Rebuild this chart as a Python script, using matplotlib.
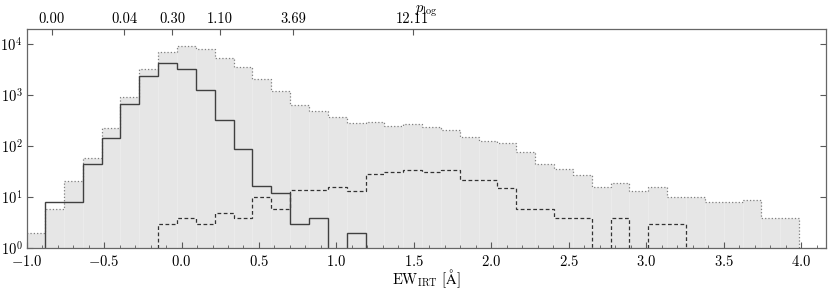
import matplotlib
matplotlib.use("Agg")
import matplotlib.pyplot as plt
from matplotlib.ticker import MultipleLocator, LogLocator, NullFormatter
import numpy as np

# bin edges of the EW_IRT histograms
edge_start = -1.003
edge_step = 0.1217
n_bins = 41

# counts per bin: whole sample (grey), solid and dashed subsets
all_counts = [2, 6, 21, 60, 232, 939, 3325, 6970, 9140, 7980,
              5380, 3540, 2060, 1214, 645, 485, 370, 282, 303, 250,
              270, 236, 209, 154, 125, 116, 78, 46, 36, 27,
              16, 19, 13, 16, 10, 10, 8, 8, 9, 4, 4]
solid_counts = [0, 8, 8, 46, 147, 666, 2390, 4360, 3280, 1270,
                328, 88, 17, 12, 3, 4, 0, 2, 0, 0,
                0, 0, 0, 0, 0, 0, 0, 0, 0, 0,
                0, 0, 0, 0, 0, 0, 0, 0, 0, 0, 0]
dashed_counts = [0, 0, 0, 0, 0, 0, 0, 3, 4, 3,
                 5, 4, 10, 6, 14, 14, 16, 13, 28, 31,
                 34, 31, 34, 22, 22, 15, 6, 6, 4, 4,
                 0, 4, 0, 3, 3, 0, 0, 0, 0, 0, 0]

# top axis: p_log values and where they sit on the EW axis
plog_ew = [-0.837, -0.371, -0.059, 0.249, 0.719, 1.493]
plog_labels = ["0.00", "0.04", "0.30", "1.10", "3.69", "12.11"]

plt.rcParams['font.family'] = 'serif'
plt.rcParams['font.serif'] = ['cmr10', 'DejaVu Serif']
plt.rcParams['mathtext.fontset'] = 'cm'
plt.rcParams['axes.formatter.use_mathtext'] = True
plt.rcParams['font.size'] = 10.5

edges = edge_start + edge_step * np.arange(n_bins + 1)
widths = np.diff(edges)

fig = plt.figure(figsize=(8.31, 2.91), dpi=100)
ax = fig.add_axes([0.032, 0.147, 0.962, 0.753])

ax.bar(edges[:-1], all_counts, width=widths, align='edge',
       color='0.9', edgecolor='0.93', linewidth=0.4)
ax.stairs(all_counts, edges, color='0.5', linestyle=':', linewidth=0.9)
ax.stairs(dashed_counts, edges, color='0.2', linestyle=(0, (3, 2)), linewidth=0.9)
ax.stairs(solid_counts, edges, color='0.25', linewidth=1.0)

ax.set_yscale('log')
ax.set_xlim(-1.0, 4.16)
ax.set_ylim(1, 2e4)
ax.xaxis.set_major_locator(MultipleLocator(0.5))
ax.xaxis.set_minor_locator(MultipleLocator(0.1))
ax.yaxis.set_major_locator(LogLocator(base=10))
ax.yaxis.set_minor_locator(LogLocator(base=10, subs=np.arange(2, 10)))
ax.yaxis.set_minor_formatter(NullFormatter())
ax.tick_params(which='both', direction='in', top=False, right=True, color='0.35')
ax.tick_params(which='major', length=4, width=0.8)
ax.tick_params(which='minor', length=2, width=0.6)
ax.tick_params(axis='x', pad=4)
ax.tick_params(axis='y', pad=3)
for s in ax.spines.values():
    s.set_color('0.4')
    s.set_linewidth(0.9)

ax.set_xlabel(r'$\mathrm{EW}_\mathrm{IRT}$ [$\mathrm{\AA}$]', labelpad=-1)

top = ax.twiny()
top.set_xlim(ax.get_xlim())
top.set_xticks(plog_ew)
top.set_xticklabels(plog_labels)
top.tick_params(direction='in', length=4, width=0.8, color='0.35', pad=2)
top.minorticks_off()
top.set_xlabel(r'$p_\mathrm{log}$', labelpad=0)
for s in top.spines.values():
    s.set_visible(False)

fig.savefig('out.png', dpi=100)
